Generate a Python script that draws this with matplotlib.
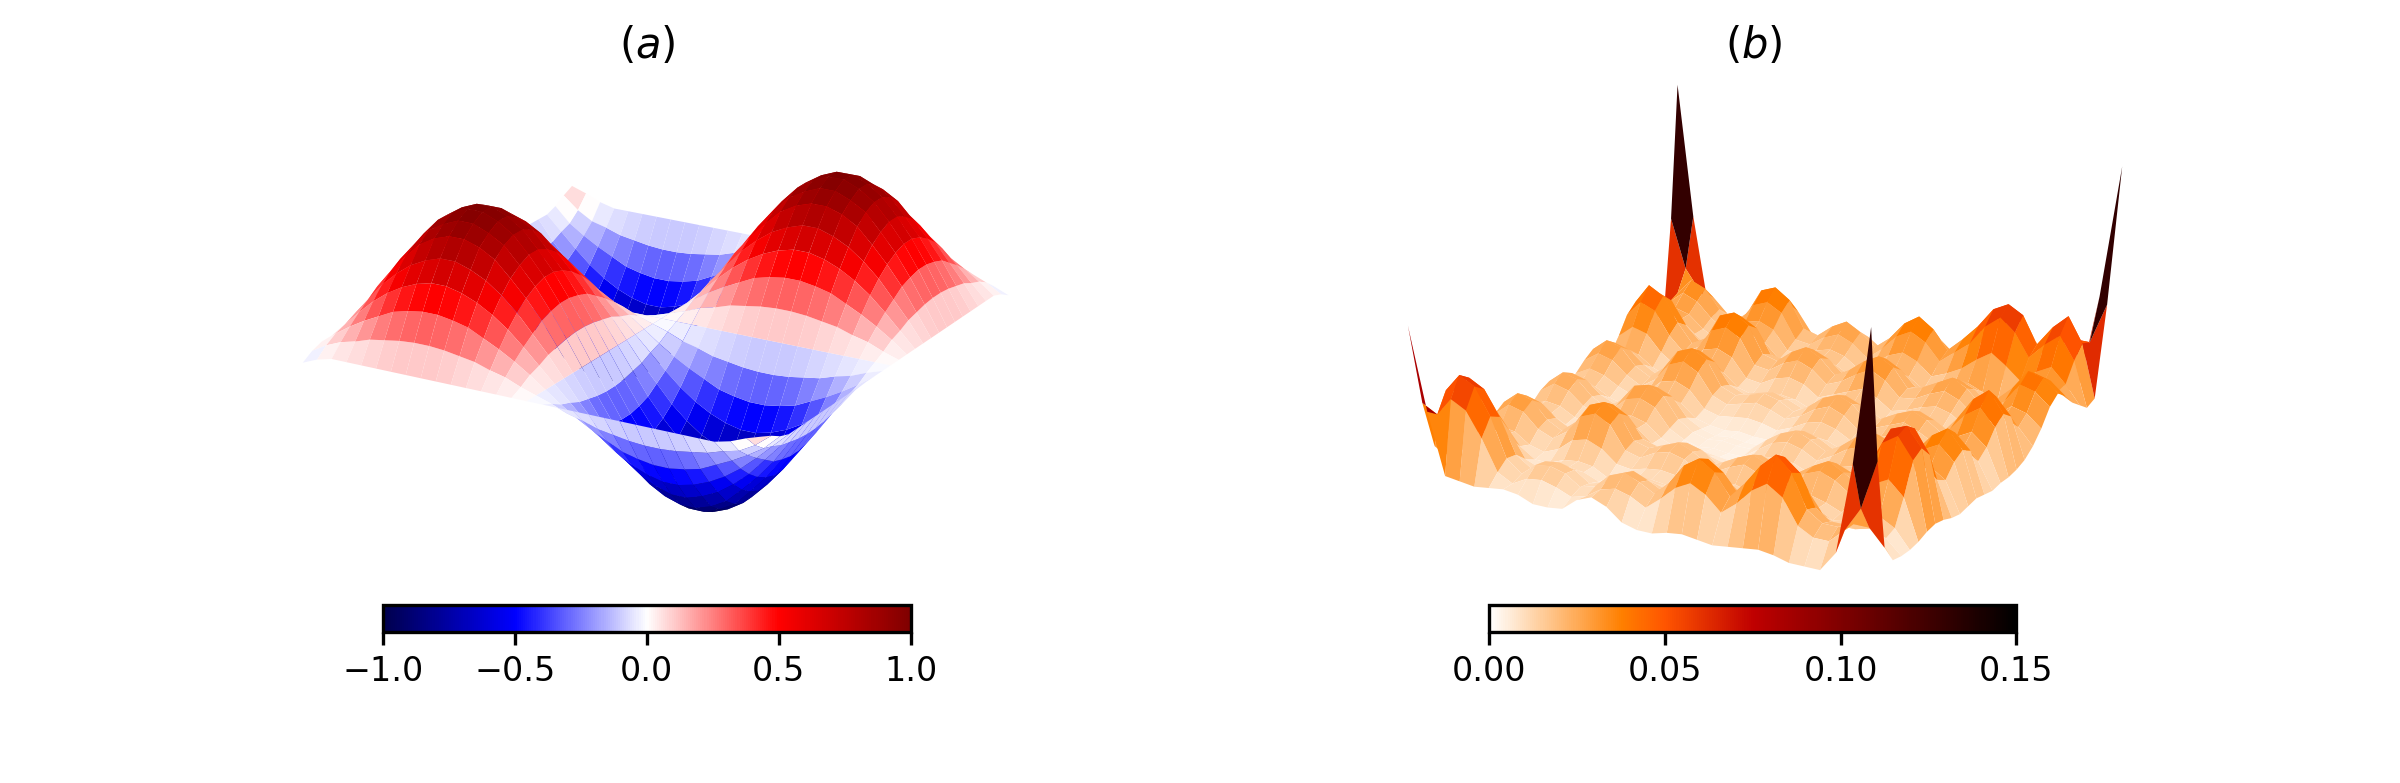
import numpy as np
import matplotlib
matplotlib.use("Agg")
import matplotlib.pyplot as plt
from matplotlib import colormaps
from matplotlib.cm import ScalarMappable
from matplotlib.colors import Normalize

# Heights. Rows run along x, columns along y.
# Panel (a): hundredths of the surface value
heights_a = [
[-8,-3,0,0,0,0,0,0,0,0,0,0,0,0,0,0,0,0,0,0,0,0,0,0,0,0,0,0,3,8,12],
[-3,4,9,12,16,18,20,21,21,20,18,16,12,9,4,0,-4,-9,-12,-16,-18,-20,-21,-21,-20,-18,-16,-12,-9,-2,8],
[0,9,17,24,30,36,39,41,41,39,36,30,24,17,9,0,-9,-17,-24,-30,-36,-39,-41,-41,-39,-36,-30,-24,-17,-9,3],
[0,12,24,35,44,51,56,59,59,56,51,44,35,24,12,0,-12,-24,-35,-44,-51,-56,-59,-59,-56,-51,-44,-35,-24,-12,0],
[0,16,30,44,55,64,70,74,74,70,64,55,44,30,16,0,-16,-30,-44,-55,-64,-70,-74,-74,-70,-64,-55,-44,-30,-16,0],
[0,18,36,51,64,76,83,87,87,83,76,64,51,36,18,0,-18,-36,-51,-64,-76,-83,-87,-87,-83,-76,-64,-51,-36,-18,0],
[0,20,39,56,70,83,90,95,95,90,83,70,56,39,20,0,-20,-39,-56,-70,-83,-90,-95,-95,-90,-83,-70,-56,-39,-20,0],
[0,21,41,59,74,87,95,100,100,95,87,74,59,41,21,0,-21,-41,-59,-74,-87,-95,-100,-100,-95,-87,-74,-59,-41,-21,0],
[0,21,41,59,74,87,95,100,100,95,87,74,59,41,21,0,-21,-41,-59,-74,-87,-95,-100,-100,-95,-87,-74,-59,-41,-21,0],
[0,20,39,56,70,83,90,95,95,90,83,70,56,39,20,0,-20,-39,-56,-70,-83,-90,-95,-95,-90,-83,-70,-56,-39,-20,0],
[0,18,36,51,64,76,83,87,87,83,76,64,51,36,18,0,-18,-36,-51,-64,-76,-83,-87,-87,-83,-76,-64,-51,-36,-18,0],
[0,16,30,44,55,64,70,74,74,70,64,55,44,30,16,0,-16,-30,-44,-55,-64,-70,-74,-74,-70,-64,-55,-44,-30,-16,0],
[0,12,24,35,44,51,56,59,59,56,51,44,35,24,12,0,-12,-24,-35,-44,-51,-56,-59,-59,-56,-51,-44,-35,-24,-12,0],
[0,9,17,24,30,36,39,41,41,39,36,30,24,17,9,0,-9,-17,-24,-30,-36,-39,-41,-41,-39,-36,-30,-24,-17,-9,0],
[0,4,9,12,16,18,20,21,21,20,18,16,12,9,4,0,-4,-9,-12,-16,-18,-20,-21,-21,-20,-18,-16,-12,-9,-4,0],
[0,0,0,0,0,0,0,0,0,0,0,0,0,0,0,0,0,0,0,0,0,0,0,0,0,0,0,0,0,0,0],
[0,-4,-9,-12,-16,-18,-20,-21,-21,-20,-18,-16,-12,-9,-4,0,4,9,12,16,18,20,21,21,20,18,16,12,9,4,0],
[0,-9,-17,-24,-30,-36,-39,-41,-41,-39,-36,-30,-24,-17,-9,0,9,17,24,30,36,39,41,41,39,36,30,24,17,9,0],
[0,-12,-24,-35,-44,-51,-56,-59,-59,-56,-51,-44,-35,-24,-12,0,12,24,35,44,51,56,59,59,56,51,44,35,24,12,0],
[0,-16,-30,-44,-55,-64,-70,-74,-74,-70,-64,-55,-44,-30,-16,0,16,30,44,55,64,70,74,74,70,64,55,44,30,16,0],
[0,-18,-36,-51,-64,-76,-83,-87,-87,-83,-76,-64,-51,-36,-18,0,18,36,51,64,76,83,87,87,83,76,64,51,36,18,0],
[0,-20,-39,-56,-70,-83,-90,-95,-95,-90,-83,-70,-56,-39,-20,0,20,39,56,70,83,90,95,95,90,83,70,56,39,20,0],
[0,-21,-41,-59,-74,-87,-95,-100,-100,-95,-87,-74,-59,-41,-21,0,21,41,59,74,87,95,100,100,95,87,74,59,41,21,0],
[0,-21,-41,-59,-74,-87,-95,-100,-100,-95,-87,-74,-59,-41,-21,0,21,41,59,74,87,95,100,100,95,87,74,59,41,21,0],
[0,-20,-39,-56,-70,-83,-90,-95,-95,-90,-83,-70,-56,-39,-20,0,20,39,56,70,83,90,95,95,90,83,70,56,39,20,0],
[0,-18,-36,-51,-64,-76,-83,-87,-87,-83,-76,-64,-51,-36,-18,0,18,36,51,64,76,83,87,87,83,76,64,51,36,18,0],
[0,-16,-30,-44,-55,-64,-70,-74,-74,-70,-64,-55,-44,-30,-16,0,16,30,44,55,64,70,74,74,70,64,55,44,30,16,0],
[0,-12,-24,-35,-44,-51,-56,-59,-59,-56,-51,-44,-35,-24,-12,0,12,24,35,44,51,56,59,59,56,51,44,35,24,12,0],
[3,-9,-17,-24,-30,-36,-39,-41,-41,-39,-36,-30,-24,-17,-9,0,9,17,24,30,36,39,41,41,39,36,30,24,17,9,0],
[8,-2,-9,-12,-16,-18,-20,-21,-21,-20,-18,-16,-12,-9,-4,0,4,9,12,16,18,20,21,21,20,18,16,12,9,4,-3],
[12,8,3,0,0,0,0,0,0,0,0,0,0,0,0,0,0,0,0,0,0,0,0,0,0,0,0,0,0,-3,-8],
]

# Panel (b): heights in steps of 0.00125
heights_b = [
[76,36,12,5,3,2,1,2,3,3,2,1,2,2,2,1,2,2,3,2,2,2,3,4,3,2,2,3,12,56,120],
[36,32,41,38,25,12,10,16,19,16,9,10,14,16,14,9,12,16,19,16,11,18,26,30,26,16,16,20,22,32,56],
[6,41,50,46,33,16,14,22,25,21,12,13,19,22,19,12,16,21,25,21,15,24,34,40,34,21,21,26,30,22,12],
[5,37,46,42,30,14,13,20,23,19,11,12,17,20,17,11,14,19,23,19,14,22,31,36,31,19,19,23,27,20,3],
[4,25,33,30,20,10,8,13,15,13,7,8,11,13,11,7,10,13,15,13,9,14,20,24,20,13,13,16,18,13,2],
[5,10,14,13,8,5,6,10,11,9,5,6,8,9,8,5,7,9,11,9,6,9,13,15,13,8,9,11,13,10,1],
[6,6,8,8,5,5,9,15,17,14,8,8,12,14,12,8,10,14,17,14,9,12,17,19,17,10,13,17,19,14,2],
[5,10,14,13,8,8,15,24,27,23,14,14,19,23,19,13,17,23,27,23,15,20,27,32,27,17,21,27,32,23,4],
[2,11,15,14,9,9,17,27,30,26,15,15,21,25,21,14,19,26,30,26,17,22,30,35,30,19,23,30,35,26,4],
[2,9,13,12,8,8,14,23,26,22,13,13,18,21,18,12,16,22,26,22,14,19,26,30,26,16,20,26,30,22,3],
[3,6,8,7,5,4,8,12,14,12,7,7,9,11,9,6,8,12,14,12,8,10,14,17,14,9,11,14,17,12,2],
[9,8,10,9,6,5,7,10,12,10,5,4,5,6,5,4,6,9,11,9,6,9,13,15,13,8,10,13,15,11,2],
[12,13,17,15,10,7,9,14,15,13,7,4,3,4,3,3,7,11,13,11,8,13,18,21,18,12,14,18,21,16,3],
[9,15,20,18,12,8,10,16,18,15,8,5,4,5,4,4,8,13,15,13,9,15,21,25,21,14,16,21,25,19,3],
[3,13,17,15,10,7,9,14,15,13,7,4,3,4,3,3,7,11,13,11,8,13,18,21,18,12,14,18,21,16,3],
[1,9,13,11,8,5,6,9,10,8,5,3,3,4,3,3,5,8,9,8,5,8,12,14,12,8,9,12,15,11,2],
[1,15,20,19,12,7,7,11,13,11,6,6,8,10,8,6,8,11,13,11,8,11,15,18,15,10,13,18,21,16,2],
[3,22,30,27,18,9,9,15,17,14,9,9,13,15,13,9,12,16,19,16,11,14,20,24,20,14,19,26,30,22,3],
[4,26,35,32,21,11,11,18,20,17,10,10,15,18,15,10,14,19,22,19,13,17,24,28,24,16,22,30,35,26,4],
[3,22,30,27,18,9,9,15,17,14,9,9,13,15,13,9,12,16,19,16,11,14,20,24,20,14,19,26,30,22,3],
[2,15,20,18,12,6,6,10,12,10,6,6,9,11,9,6,8,10,12,10,7,9,13,15,13,9,13,18,21,16,2],
[3,21,28,25,17,9,9,14,16,13,8,9,13,15,13,8,10,13,15,13,8,11,14,17,14,11,16,24,28,20,3],
[4,29,38,35,23,12,12,20,21,18,11,12,18,21,18,11,13,16,19,16,10,14,18,21,18,14,20,30,36,27,4],
[5,34,45,41,27,14,14,23,25,21,13,14,21,25,21,13,15,19,22,19,12,16,21,25,21,17,26,40,46,35,5],
[4,29,38,35,23,12,12,20,21,18,11,12,18,21,18,11,13,16,19,16,10,14,18,21,18,14,31,46,50,41,6],
[2,17,22,20,13,8,9,15,17,14,8,8,12,15,12,8,9,12,14,12,7,9,12,14,12,10,26,40,46,35,5],
[2,13,17,15,10,10,17,28,31,27,15,13,18,21,18,12,15,20,23,20,12,13,16,19,16,12,20,29,33,25,3],
[2,13,17,15,10,13,26,43,47,40,22,19,26,30,26,17,21,29,34,29,18,18,22,26,22,16,26,37,43,32,4],
[12,20,20,18,12,15,30,48,50,46,26,22,30,35,30,20,25,34,40,34,21,24,32,36,32,24,30,43,50,36,12],
[56,32,20,14,9,11,23,38,41,35,20,17,23,26,23,15,19,26,30,26,18,22,30,34,30,22,23,32,38,36,56],
[120,56,12,3,2,2,3,5,6,5,3,2,3,4,3,2,3,3,4,6,10,16,24,28,24,18,14,10,12,56,120],
]

unit_a = 0.01
unit_b = 0.00125
titles = ["$(a)$", "$(b)$"]
ticks_a = [-1.0, -0.5, 0.0, 0.5, 1.0]
ticks_b = [0.00, 0.05, 0.10, 0.15]
labels_a = ["\u22121.0", "\u22120.5", "0.0", "0.5", "1.0"]
labels_b = ["0.00", "0.05", "0.10", "0.15"]

W, H = 8.0, 2.61
fig = plt.figure(figsize=(W, H), dpi=300)


def cell_values(Z, spike_from):
    """Mean height of each cell; cells on a narrow spike lean towards their top height."""
    mean = (Z[:-1, :-1] + Z[1:, :-1] + Z[:-1, 1:] + Z[1:, 1:]) / 4
    top = np.maximum.reduce([Z[:-1, :-1], Z[1:, :-1], Z[:-1, 1:], Z[1:, 1:]])
    if spike_from is None:
        return mean
    return np.where(top >= spike_from, 0.7 * top + 0.3 * mean, mean)


def panel(Z, unit, cmap, vmin, vmax, zlim, spike_from, cx, cy, wi, hi, tx, title, cbar_rect, ticks, labels):
    Z = np.asarray(Z, float) * unit
    n, m = Z.shape
    x, y = np.meshgrid(np.linspace(-1, 1, n), np.linspace(-1, 1, m), indexing="ij")
    w, h = wi / W, hi / H
    ax = fig.add_axes([cx - w / 2, cy - h / 2, w, h], projection="3d")
    # the panels are stretched to their rectangle, not kept square
    ax.apply_aspect = lambda position=None: None
    norm = Normalize(vmin, vmax)
    cm = colormaps[cmap]
    ax.plot_surface(x, y, Z, rstride=1, cstride=1, facecolors=cm(norm(cell_values(Z, spike_from))),
                    shade=False, linewidth=0, antialiased=True)
    ax.set_zlim(*zlim)
    ax.set_axis_off()
    ax.patch.set_alpha(0)
    fig.text(tx, 0.9415, title, ha="center", va="center", fontsize=10)
    cax = fig.add_axes(cbar_rect)
    cb = fig.colorbar(ScalarMappable(norm=norm, cmap=cm), cax=cax, orientation="horizontal")
    cb.set_ticks(ticks)
    cb.set_ticklabels(labels)
    cb.ax.tick_params(labelsize=8, length=3.0, width=0.8, pad=2.5)
    return ax


panel(heights_a, unit_a, "seismic", -1, 1, (-1.1, 1.1), None, 0.2704, 0.582, 3.07, 2.18, 0.2698, titles[0],
      [0.1596, 0.193, 0.2198, 0.0343], ticks_a, labels_a)
panel(heights_b, unit_b, "gist_heat_r", 0, 0.15, (0, 0.165), 0.065, 0.7316, 0.590, 3.07, 2.18, 0.7309, titles[1],
      [0.6204, 0.193, 0.2198, 0.0343], ticks_b, labels_b)

fig.savefig("out.png", dpi=300)
